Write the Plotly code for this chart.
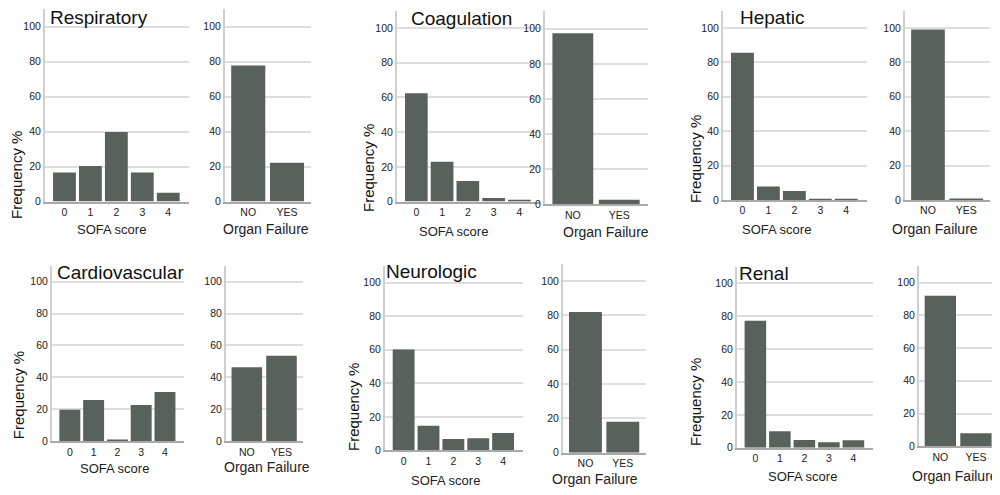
import plotly.graph_objects as go

# ---------------- data ----------------
organs = ["Respiratory", "Coagulation", "Hepatic", "Cardiovascular", "Neurologic", "Renal"]
sofa_scores = ["0", "1", "2", "3", "4"]
failure_labels = ["NO", "YES"]
y_ticks = [0, 20, 40, 60, 80, 100]

resp_sofa = [16.6, 20.3, 39.8, 16.6, 5.0]
resp_of = [77.8, 22.2]
coag_sofa = [62.4, 23.0, 11.8, 2.1, 0.6]
coag_of = [97.4, 2.6]
hep_sofa = [85.6, 7.8, 5.2, 0.6, 0.3]
hep_of = [99.2, 0.8]
cardio_sofa = [19.8, 25.8, 1.2, 22.7, 30.9]
cardio_of = [46.4, 53.6]
neuro_sofa = [60.2, 14.7, 6.9, 7.3, 10.4]
neuro_of = [82.0, 18.0]
renal_sofa = [77.2, 10.0, 4.8, 3.4, 4.6]
renal_of = [92.0, 8.0]

sofa_values = [resp_sofa, coag_sofa, hep_sofa, cardio_sofa, neuro_sofa, renal_sofa]
of_values = [resp_of, coag_of, hep_of, cardio_of, neuro_of, renal_of]

# ---------------- layout geometry (window pixels) ----------------
WIN_W, WIN_H = 1000, 495
OFF = 8  # default page body margin
W, H = WIN_W - OFF, WIN_H - OFF
# (x_left, x_right, y_top(value 110), y_zero)
sofa_boxes = [
    (45, 189, 9.3, 204), (397, 540, 10.7, 204), (723, 867, 10.9, 202.3),
    (52, 184, 268.8, 446.7), (385, 523, 269, 456), (737, 873, 270, 453.3),
]
of_boxes = [
    (225, 311, 9.3, 204), (545, 648, 11.2, 206.7), (905, 990, 10.9, 202.3),
    (226, 303, 268.8, 446.7), (563, 646, 267, 458.3), (919, 998, 269.5, 451.7),
]
title_pos = [(49, 18), (410, 19), (739, 18), (56, 276), (385, 275), (738, 277)]
ylabel_pos = [(17, 177), (368, 170), (695, 161), (18, 400), (353, 412), (695, 407)]
sofa_lbl_pos = [(111, 232), (453, 234), (776, 232), (114, 474), (445, 486), (802, 482)]
of_lbl_pos = [(266, 232), (606, 235), (935, 232), (267, 473), (595, 485), (955, 482)]

BAR = "#58615b"
FONT = "Liberation Sans, Arial, sans-serif"
TICK = "#222222"

fig = go.Figure()
layout = dict(
    width=W, height=H, margin=dict(l=0, r=0, t=0, b=0, pad=0),
    paper_bgcolor="white", plot_bgcolor="white", showlegend=False,
    font=dict(family=FONT, color="#222"), bargap=0.1,
)
annotations = []


def px_x(v):
    return (v - OFF) / W


def px_y(v):
    return 1 - (v - OFF) / H


def add_axes(idx, box, cats, values, xrange):
    x0, x1, yt, y0 = box
    sfx = "" if idx == 1 else str(idx)
    fig.add_trace(go.Bar(
        x=cats, y=values, marker=dict(color=BAR, line=dict(width=0)),
        xaxis="x" + sfx, yaxis="y" + sfx, width=0.88,
    ))
    layout["xaxis" + sfx] = dict(
        domain=[px_x(x0), px_x(x1)], anchor="y" + sfx, type="category",
        range=xrange, showline=True, linecolor="#a8a8a8", linewidth=1.5,
        showgrid=False, ticks="", tickfont=dict(size=10.5, color=TICK, family=FONT),
        fixedrange=True,
    )
    layout["yaxis" + sfx] = dict(
        domain=[px_y(y0), px_y(yt)], anchor="x" + sfx, range=[0, 110],
        tickvals=y_ticks, showline=True, linecolor="#cfcfcf", linewidth=2,
        showgrid=True, gridcolor="#dedede", gridwidth=1.5, zeroline=False,
        ticks="", tickfont=dict(size=10.5, color=TICK, family=FONT), fixedrange=True,
    )


for i in range(6):
    add_axes(2 * i + 1, sofa_boxes[i], sofa_scores, sofa_values[i], [-0.75, 4.8])
    add_axes(2 * i + 2, of_boxes[i], failure_labels, of_values[i], [-0.6, 1.62])
    tx, ty = title_pos[i]
    annotations.append(dict(
        text=organs[i], x=px_x(tx), y=px_y(ty), xref="paper", yref="paper",
        xanchor="left", yanchor="middle", showarrow=False, borderpad=0,
        font=dict(size=19, color="#111", family=FONT),
    ))
    lx, ly = ylabel_pos[i]
    annotations.append(dict(
        text="Frequency %", x=px_x(lx), y=px_y(ly), xref="paper", yref="paper",
        xanchor="center", yanchor="middle", textangle=-90, showarrow=False,
        font=dict(size=15, color="#111", family=FONT),
    ))
    sx, sy = sofa_lbl_pos[i]
    annotations.append(dict(
        text="SOFA score", x=px_x(sx), y=px_y(sy), xref="paper", yref="paper",
        xanchor="center", yanchor="middle", showarrow=False,
        font=dict(size=13, color="#222", family=FONT),
    ))
    ox, oy = of_lbl_pos[i]
    annotations.append(dict(
        text="Organ Failure", x=px_x(ox), y=px_y(oy), xref="paper", yref="paper",
        xanchor="center", yanchor="middle", showarrow=False,
        font=dict(size=14, color="#222", family=FONT),
    ))

layout["annotations"] = annotations
fig.update_layout(**layout)
fig.write_html("out.html")
